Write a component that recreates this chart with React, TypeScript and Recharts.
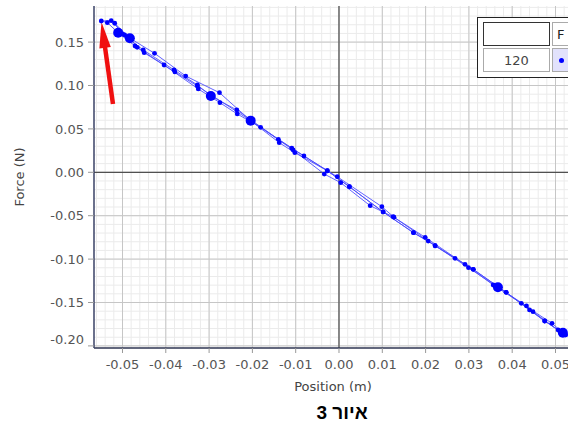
import React from "react";
import {
  ScatterChart,
  Scatter,
  XAxis,
  YAxis,
  CartesianGrid,
  ReferenceLine,
} from "recharts";

// ---- data ----
const position = [
  0.0523, 0.0475, 0.044, 0.0386, 0.031, 0.0268, 0.0206, 0.0172, 0.0102, 0.0024,
  -0.0027, -0.0102, -0.0138, -0.0204, -0.0276, -0.0354, -0.0426, -0.0495, -0.0526, -0.0549,
  -0.0535, -0.051, -0.0471, -0.0404, -0.0325, -0.0275, -0.0235, -0.0181, -0.0106, -0.0034,
  0.0004, 0.0072, 0.0125, 0.0199, 0.0291, 0.0356, 0.0421, 0.0492, 0.0517,
  0.0506, 0.0448, 0.0433, 0.0367, 0.0299, 0.0222, 0.0127, 0.0099, -0.0004, -0.0081,
  -0.014, -0.0236, -0.0296, -0.0327, -0.0381, -0.0452, -0.05, -0.0518,
  -0.0483, -0.0466, -0.045, -0.0379, -0.0327, -0.0204, -0.0109, -0.0027, 0.0024, 0.0102,
  0.0172, 0.0222, 0.031, 0.0386, 0.0475, 0.0523,
];
const force = [
  -0.1874, -0.1713, -0.1586, -0.1383, -0.1118, -0.0991, -0.0792, -0.0696, -0.0457, -0.0166,
  0.0018, 0.0226, 0.0341, 0.0595, 0.0917, 0.1109, 0.1371, 0.1582, 0.1747, 0.1743,
  0.1724, 0.1608, 0.1455, 0.1236, 0.096, 0.0802, 0.0672, 0.0518, 0.0257, -0.002,
  -0.012, -0.0385, -0.0512, -0.0749, -0.106, -0.1298, -0.1509, -0.174, -0.1848,
  -0.1817, -0.1606, -0.154, -0.1325, -0.1099, -0.0846, -0.0518, -0.0396, -0.0051, 0.0188,
  0.038, 0.0718, 0.0879, 0.1006, 0.1179, 0.1409, 0.1593, 0.1717,
  0.1544, 0.144, 0.1378, 0.1156, 0.0994, 0.0595, 0.0277, 0.0018, -0.0166, -0.0457,
  -0.0696, -0.0846, -0.1118, -0.1383, -0.1713, -0.1874,
];
const markedPosition = [-0.0296, -0.0483, -0.051, -0.0204, 0.0367, 0.0517];
const markedForce = [0.0879, 0.1544, 0.1608, 0.0595, -0.1325, -0.1848];

const arrowPosition = [-0.0522, -0.05485];
const arrowForce = [0.0787, 0.1732];

const xTicks = [-0.05, -0.04, -0.03, -0.02, -0.01, 0, 0.01, 0.02, 0.03, 0.04, 0.05];
const yTicks = [-0.2, -0.15, -0.1, -0.05, 0, 0.05, 0.1, 0.15];
const xDomain = [-0.05658, 0.05381];
const yDomain = [-0.20242, 0.19159];

const legendRowLabel = "120";
const legendColumnLabel = "F";
const caption = "איור 3";

const steps = (a: number, b: number, n: number, s: number) => {
  const out: number[] = [];
  for (let i = Math.round(a / s); i <= Math.round(b / s); i++) out.push(+(i * s).toFixed(4));
  return out;
};
const xMinor = steps(-0.056, 0.052, 0, 0.002);
const yMinor = steps(-0.2, 0.19, 0, 0.01);

const points = position.map((x, i) => ({ x, y: force[i] }));
const marked = markedPosition.map((x, i) => ({ x, y: markedForce[i] }));

const FONT = "'DejaVu Sans', sans-serif";

const SmallDot = (p: any) => <circle cx={p.cx} cy={p.cy} r={2.4} fill="#0000ff" />;
const BigDot = (p: any) => <circle cx={p.cx} cy={p.cy} r={5} fill="#0000ff" />;

const ArrowShape = (p: any) => {
  const { x1, y1, x2, y2 } = p;
  if ([x1, y1, x2, y2].some((v) => v == null || isNaN(v))) return null;
  const dx = x2 - x1;
  const dy = y2 - y1;
  const len = Math.hypot(dx, dy) || 1;
  const ux = dx / len;
  const uy = dy / len;
  const headLen = 26;
  const headW = 5.8;
  const bx = x2 - ux * headLen;
  const by = y2 - uy * headLen;
  const px = -uy;
  const py = ux;
  return (
    <g>
      <line x1={x1} y1={y1} x2={bx + ux * 3} y2={by + uy * 3} stroke="#f01010" strokeWidth={4.5} />
      <polygon
        points={`${x2},${y2} ${bx + px * headW},${by + py * headW} ${bx - px * headW},${by - py * headW}`}
        fill="#f01010"
      />
    </g>
  );
};

const YTick = (p: any) => {
  const { x, y, payload } = p;
  const v = payload.value as number;
  const shift = Math.abs(v + 0.2) < 1e-9 ? -7 : 0;
  return (
    <text x={x} y={y + shift} dy="0.36em" textAnchor="end" fill="#555" fontSize={13} fontFamily={FONT}>
      {v.toFixed(2)}
    </text>
  );
};

const XTick = (p: any) => {
  const { x, y, payload } = p;
  const v = payload.value as number;
  return (
    <text x={x} y={y} dy="0.9em" textAnchor="middle" fill="#555" fontSize={13} fontFamily={FONT}>
      {v.toFixed(2)}
    </text>
  );
};

const YLabel = (p: any) => {
  const vb = p.viewBox || {};
  const cy = vb.y + vb.height / 2;
  const cx = 19;
  return (
    <text
      x={cx}
      y={cy}
      transform={`rotate(-90 ${cx} ${cy})`}
      textAnchor="middle"
      dominantBaseline="central"
      fill="#444"
      fontSize={13}
      fontFamily={FONT}
    >
      Force (N)
    </text>
  );
};

const XLabel = (p: any) => {
  const vb = p.viewBox || {};
  const cx = vb.x + vb.width / 2;
  return (
    <text x={cx} y={391} textAnchor="middle" fill="#444" fontSize={13} fontFamily={FONT}>
      Position (m)
    </text>
  );
};

const cell: React.CSSProperties = {
  position: "absolute",
  boxSizing: "border-box",
  fontFamily: FONT,
  fontSize: 13,
  color: "#444",
  display: "flex",
  alignItems: "center",
};

export default function App() {
  return (
    <div
      style={{
        position: "fixed",
        left: 0,
        top: 0,
        width: 568,
        height: 430,
        overflow: "hidden",
        background: "#fff",
      }}
    >
      <ScatterChart width={600} height={430} margin={{ top: 6, right: 28, bottom: 0, left: 0 }}>
        <CartesianGrid
          stroke="#ebebeb"
          verticalValues={xMinor}
          horizontalValues={yMinor}
          fill="#ffffff"
        />
        <CartesianGrid stroke="#c6c6c6" verticalValues={xTicks} horizontalValues={yTicks} />
        <XAxis
          type="number"
          dataKey="x"
          domain={xDomain}
          allowDataOverflow
          ticks={xTicks}
          interval={0}
          height={82}
          tick={<XTick />}
          tickSize={5}
          tickMargin={4}
          tickLine={{ stroke: "#999" }}
          axisLine={{ stroke: "#2e3452", strokeWidth: 1.5 }}
          label={<XLabel />}
        />
        <XAxis
          xAxisId="top"
          orientation="top"
          type="number"
          domain={xDomain}
          allowDataOverflow
          height={0}
          tick={false}
          tickLine={false}
          axisLine={{ stroke: "#3a4266", strokeWidth: 1.5 }}
        />
        <YAxis
          type="number"
          dataKey="y"
          domain={yDomain}
          allowDataOverflow
          ticks={yTicks}
          interval={0}
          width={94}
          tick={<YTick />}
          tickSize={6}
          tickMargin={4}
          tickLine={{ stroke: "#999" }}
          axisLine={{ stroke: "#3a4266", strokeWidth: 1.5 }}
          label={<YLabel />}
        />
        <ReferenceLine x={0} stroke="#333" strokeWidth={1} />
        <ReferenceLine y={0} stroke="#333" strokeWidth={1} />
        <Scatter
          data={points}
          shape={<SmallDot />}
          line={{ stroke: "#4848ff", strokeWidth: 1, strokeOpacity: 0.85 }}
          lineType="joint"
          isAnimationActive={false}
        />
        <Scatter data={marked} shape={<BigDot />} isAnimationActive={false} />
        <ReferenceLine
          segment={[
            { x: arrowPosition[0], y: arrowForce[0] },
            { x: arrowPosition[1], y: arrowForce[1] },
          ]}
          ifOverflow="visible"
          shape={ArrowShape}
        />
      </ScatterChart>

      {/* legend table */}
      <div
        style={{
          position: "absolute",
          left: 477,
          top: 17,
          width: 120,
          height: 61,
          border: "1px solid #222",
          background: "#fff",
          boxSizing: "border-box",
        }}
      />
      <div style={{ ...cell, left: 483, top: 22, width: 67, height: 24, border: "1px solid #333", background: "#fff" }} />
      <div
        style={{
          ...cell,
          left: 552,
          top: 22,
          width: 40,
          height: 24,
          border: "1px solid #aaa",
          paddingLeft: 4,
          color: "#222",
          background: "#fff",
        }}
      >
        {legendColumnLabel}
      </div>
      <div
        style={{
          ...cell,
          left: 483,
          top: 48,
          width: 67,
          height: 24,
          border: "1px solid #aaa",
          justifyContent: "center",
          background: "#fff",
        }}
      >
        {legendRowLabel}
      </div>
      <div
        style={{
          ...cell,
          left: 552,
          top: 48,
          width: 40,
          height: 24,
          border: "1px solid #aaa",
          background: "#e2e2fc",
        }}
      >
        <div
          style={{
            position: "absolute",
            left: 6,
            top: 9,
            width: 5,
            height: 5,
            borderRadius: "50%",
            background: "#0000ff",
          }}
        />
      </div>

      {/* caption */}
      <div
        style={{
          position: "absolute",
          left: 292,
          top: 401,
          width: 100,
          textAlign: "center",
          fontFamily: "'Liberation Sans', Arial, sans-serif",
          fontWeight: "bold",
          fontSize: 19,
          color: "#000",
          direction: "rtl",
          lineHeight: "24px",
        }}
      >
        {caption}
      </div>
    </div>
  );
}
